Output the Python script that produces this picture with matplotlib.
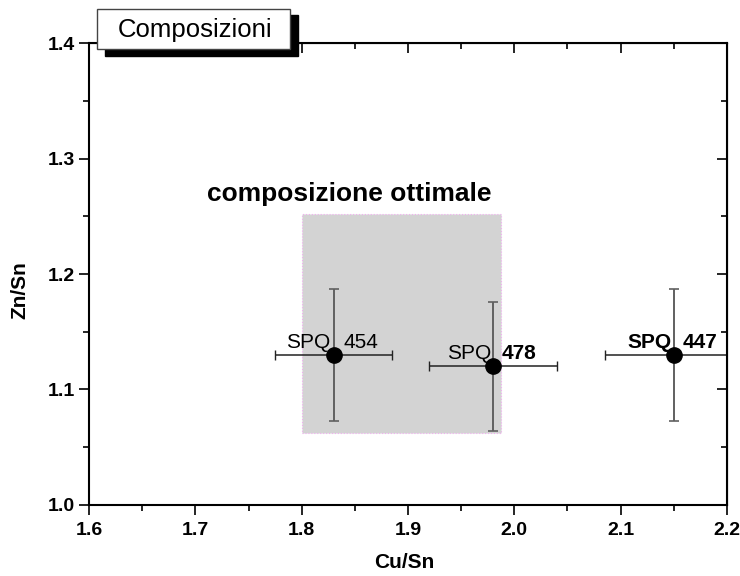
import matplotlib
matplotlib.use("Agg")
import matplotlib.pyplot as plt
from matplotlib.patches import Rectangle

plt.rcParams['font.family'] = ['Liberation Sans', 'DejaVu Sans']
plt.rcParams['font.weight'] = 'bold'   # tick labels and axis titles are bold

# data
samples = ["454", "478", "447"]
cu_sn = [1.83, 1.98, 2.15]
zn_sn = [1.13, 1.12, 1.13]
cu_err = [0.055, 0.06, 0.065]
zn_err = [0.057, 0.056, 0.057]

# optimal composition window
opt_x = [1.80, 1.987]
opt_y = [1.062, 1.252]

fig = plt.figure(figsize=(7.4, 5.76), dpi=100)
ax = fig.add_axes([0.1203, 0.1233, 0.8621, 0.802])

ax.add_patch(Rectangle((opt_x[0], opt_y[0]), opt_x[1] - opt_x[0], opt_y[1] - opt_y[0],
                       facecolor='#d3d3d3', edgecolor='#f0b0f0', linestyle=':', linewidth=0.8, zorder=1))
ax.text(1.845, 1.2635, "composizione ottimale", fontsize=19,
        fontweight='bold', ha='center', va='baseline')

ax.errorbar(cu_sn, zn_sn, yerr=zn_err, fmt='none', ecolor='#606060', elinewidth=1.4,
            capsize=3.5, capthick=1.2, zorder=2)
ax.errorbar(cu_sn, zn_sn, xerr=cu_err, fmt='none', ecolor='#222222', elinewidth=1.1,
            capsize=3.5, capthick=1.0, zorder=2)
ax.plot(cu_sn, zn_sn, 'o', color='black', markersize=11, zorder=3)

# labels: "SPQ" + sample number, weights as in the original
name_x = [1.785, 1.937, 2.106]
num_x = [1.839, 1.988, 2.158]
lab_y = [1.141, 1.131, 1.141]
spq_w = ['normal', 'normal', 'bold']
num_w = ['normal', 'bold', 'bold']
for i in range(len(samples)):
    ax.text(name_x[i], lab_y[i], "SPQ", fontsize=15, fontweight=spq_w[i], ha='left', va='center', zorder=4)
    ax.text(num_x[i], lab_y[i], samples[i], fontsize=15, fontweight=num_w[i], ha='left', va='center', zorder=4)

ax.set_xlim(1.6, 2.2)
ax.set_ylim(1.0, 1.4)
xt = [1.6, 1.7, 1.8, 1.9, 2.0, 2.1, 2.2]
yt = [1.0, 1.1, 1.2, 1.3, 1.4]
xm = [1.65, 1.75, 1.85, 1.95, 2.05, 2.15]
ym = [1.05, 1.15, 1.25, 1.35]
ax.set_xticks(xt)
ax.set_yticks(yt)
ax.set_xticks(xm, minor=True)
ax.set_yticks(ym, minor=True)
ax.xaxis.set_major_formatter(matplotlib.ticker.FormatStrFormatter('%.1f'))
ax.yaxis.set_major_formatter(matplotlib.ticker.FormatStrFormatter('%.1f'))

ax.tick_params(which='both', direction='out', width=1.2, top=False, right=False, labelsize=14)
ax.tick_params(which='major', length=7)
ax.tick_params(which='minor', length=4)
ax.tick_params(axis='x', pad=5)
ax.tick_params(axis='y', pad=3)

# mirrored inward ticks on top and right
ax2 = ax.secondary_xaxis('top')
ax2.set_xticks(xt)
ax2.set_xticks(xm, minor=True)
ax2.tick_params(which='both', direction='in', labeltop=False, width=1.2)
ax2.tick_params(which='major', length=7)
ax2.tick_params(which='minor', length=4)
ay2 = ax.secondary_yaxis('right')
ay2.set_yticks(yt)
ay2.set_yticks(ym, minor=True)
ay2.tick_params(which='both', direction='in', labelright=False, width=1.2)
ay2.tick_params(which='major', length=7)
ay2.tick_params(which='minor', length=4)

for sp in ax.spines.values():
    sp.set_linewidth(1.5)

ax.set_xlabel("Cu/Sn", fontsize=15, fontweight='bold')
ax.set_ylabel("Zn/Sn", fontsize=15, fontweight='bold')
ax.xaxis.set_label_coords(0.494, -0.105)
ax.yaxis.set_label_coords(-0.094, 0.465)

# title box with shadow
W, H = 740.0, 576.0
fig.patches.append(Rectangle((105 / W, 1 - 56 / H), 193 / W, 41 / H, transform=fig.transFigure,
                             facecolor='black', edgecolor='black', zorder=5))
fig.patches.append(Rectangle((97 / W, 1 - 49 / H), 193 / W, 40 / H, transform=fig.transFigure,
                             facecolor='white', edgecolor='#444444', linewidth=1.0, zorder=6))
fig.text(195 / W, 1 - 30 / H, "Composizioni", fontsize=18.5, fontweight='normal',
         ha='center', va='center', zorder=7)

fig.savefig("out.png", dpi=100)
